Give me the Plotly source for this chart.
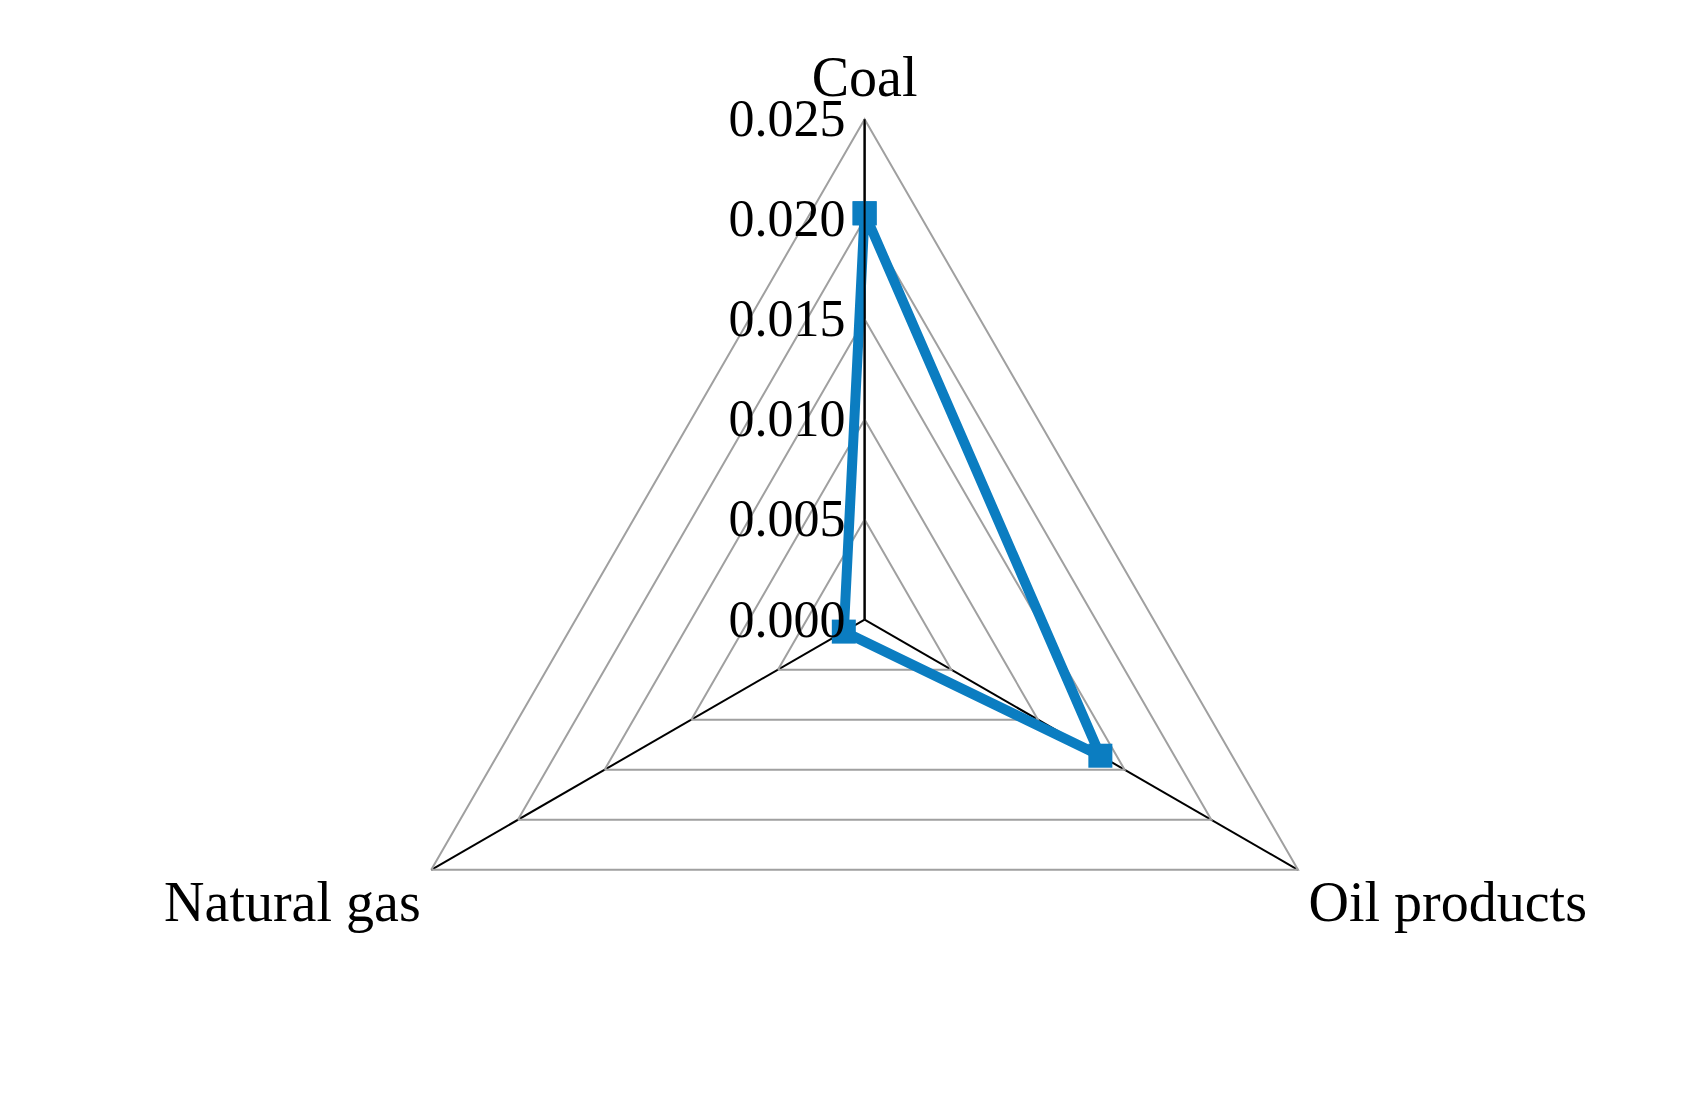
import plotly.graph_objects as go

categories = ['Coal', 'Oil products', 'Natural gas']
values = [0.0203, 0.0136, 0.0012]
tick_vals = [0.0, 0.005, 0.010, 0.015, 0.020, 0.025]

fig = go.Figure()
fig.add_trace(go.Scatterpolar(
    r=values + values[:1], theta=categories + categories[:1],
    mode='lines+markers',
    line=dict(color='#0b7dc1', width=10),
    marker=dict(symbol='square', size=24, color='#0b7dc1'),
    showlegend=False))

fig.update_layout(
    width=1703, height=1112,
    paper_bgcolor='white',
    margin=dict(l=0, r=0, t=0, b=0),
    font=dict(family='Liberation Serif', size=50, color='black'),
    polar=dict(
        domain=dict(x=[0.209, 0.797], y=[0.0, 0.9]),
        gridshape='linear',
        bgcolor='white',
        radialaxis=dict(range=[0, 0.025], tickvals=tick_vals, tickformat='.3f',
                        angle=90, tickangle=90, side='counterclockwise',
                        showline=True, linecolor='black', linewidth=2,
                        gridcolor='#a0a0a0', gridwidth=2, ticks='',
                        tickfont=dict(size=52)),
        angularaxis=dict(direction='clockwise', rotation=90,
                         showline=True, linecolor='#a0a0a0', linewidth=2,
                         gridcolor='black', gridwidth=2, ticks='',
                         tickfont=dict(size=56))))

fig.write_html("out.html")
